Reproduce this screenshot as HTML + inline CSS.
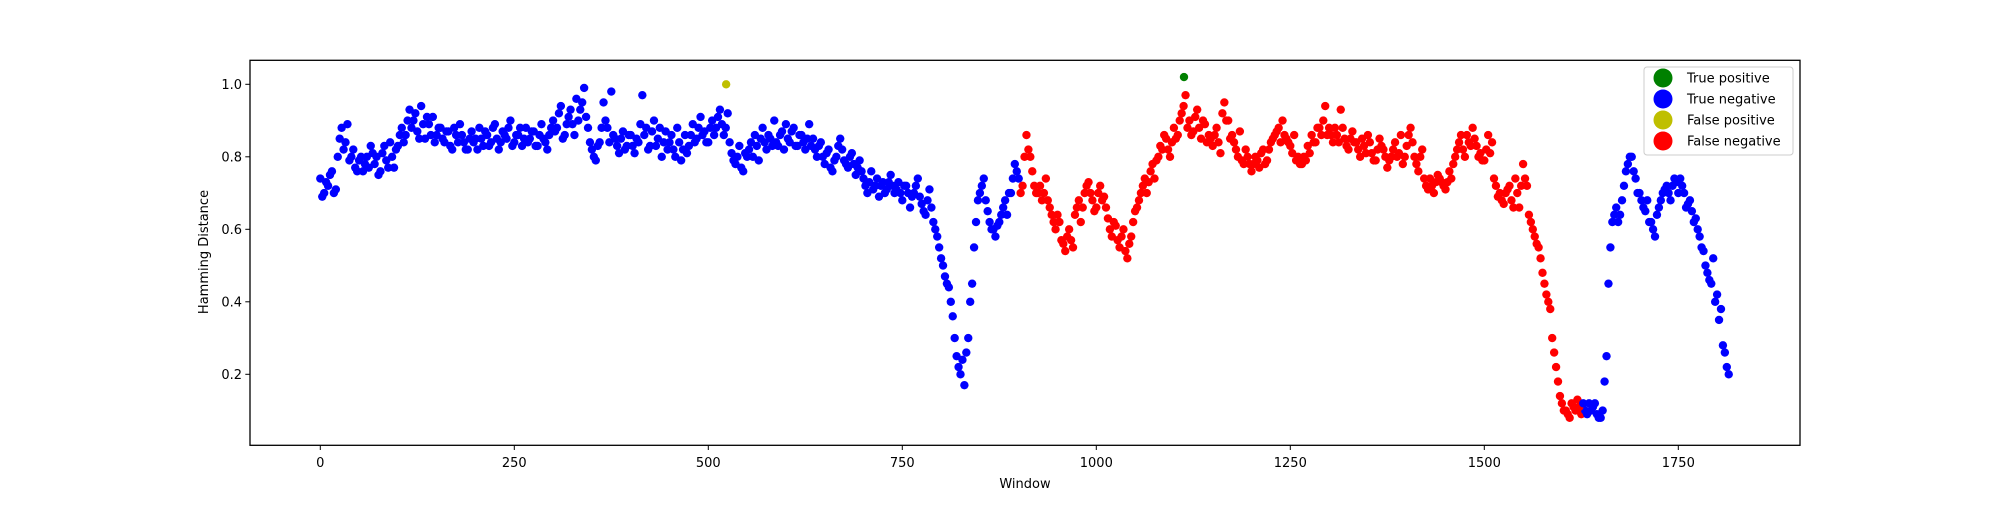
<!DOCTYPE html>
<html><head><meta charset="utf-8"><style>
html,body{margin:0;padding:0;background:#fff;}
svg text{font-family:"DejaVu Sans","Liberation Sans",sans-serif;fill:#000;}
</style></head><body>
<svg id="chart" width="2000" height="500" viewBox="0 0 2000 500" xmlns="http://www.w3.org/2000/svg">
<rect x="0" y="0" width="2000" height="500" fill="#fff"/>
<g id="points"></g>
<rect x="250" y="60.3" width="1550" height="385" fill="none" stroke="#000" stroke-width="1.3"/>
<g id="xticks"></g>
<g id="yticks"></g>
<text x="1025" y="488" font-size="13" text-anchor="middle">Window</text>
<text transform="translate(208,252) rotate(-90)" font-size="13" text-anchor="middle">Hamming Distance</text>
<g>
<rect x="1644" y="67" width="149" height="88" rx="3" fill="#fff" fill-opacity="0.8" stroke="#ccc"/>
<g id="legend-entries"></g>
</g>
</svg>
<script>
const values = [
.74,.70,.72,.76,.71,.85,.82,.89,.80,.77,.79,.76,.80,.83,.78,.75,.81,.79,.84,.77,
.83,.88,.86,.93,.90,.87,.94,.85,.89,.91,.86,.88,.84,.87,.82,.86,.89,.84,.82,.87,
.85,.88,.83,.86,.84,.89,.82,.87,.85,.90,.84,.86,.83,.88,.85,.87,.83,.89,.84,.86,
.90,.88,.94,.86,.91,.89,.96,.93,.99,.88,.82,.79,.84,.95,.88,.98,.85,.81,.87,.83,
.86,.81,.84,.97,.88,.83,.90,.85,.80,.87,.84,.82,.88,.79,.86,.83,.89,.85,.91,.87,
.84,.90,.88,.93,.86,.92,.81,.78,.83,.76,.80,.84,.86,.79,.88,.82,.85,.90,.83,.87,
.89,.84,.88,.83,.86,.82,.89,.85,.80,.84,.78,.82,.76,.80,.85,.79,.77,.81,.75,.79,
.74,.70,.76,.72,.69,.73,.71,.75,.70,.73,.68,.72,.66,.70,.74,.67,.64,.71,.62,.58,
.52,.47,.44,.36,.25,.20,.17,.30,.45,.62,.70,.74,.65,.60,.58,.62,.66,.64,.70,.78,
.74,.72,.86,.80,.72,.70,.68,.74,.66,.62,.64,.57,.54,.60,.55,.66,.62,.70,.73,.68,
.66,.72,.69,.63,.58,.61,.55,.60,.52,.58,.65,.68,.72,.70,.76,.74,.80,.82,.85,.80,
.88,.86,.92,.97,.90,.87,.93,.85,.89,.86,.83,.88,.81,.95,.90,.86,.82,.87,.78,.80,
.76,.80,.77,.82,.79,.84,.86,.88,.90,.85,.83,.86,.80,.78,.79,.81,.84,.88,.86,.94,
.88,.84,.86,.93,.85,.82,.87,.84,.80,.83,.86,.81,.79,.85,.82,.77,.80,.84,.81,.78,
.83,.88,.80,.76,.82,.72,.74,.70,.75,.73,.71,.76,.78,.82,.86,.80,.84,.88,.83,.81,
.79,.86,.84,.72,.70,.67,.71,.68,.74,.66,.78,.72,.62,.58,.55,.48,.42,.38,.26,.18,
.12,.10,.08,.11,.13,.09,.10,.12,.11,.09,.08,.18,.45,.62,.66,.64,.72,.78,.80,.74,
.70,.66,.68,.62,.58,.66,.70,.72,.68,.74,.70,.72,.66,.68,.62,.60,.55,.50,.46,.52,
.42,.38,.26,.20
];
const valuesOffset = [
.69,.73,.75,.70,.80,.88,.84,.79,.82,.76,.80,.78,.77,.81,.80,.76,.83,.77,.80,.82,
.86,.84,.90,.88,.92,.85,.89,.91,.86,.84,.88,.85,.87,.83,.88,.84,.86,.82,.85,.84,
.82,.85,.87,.83,.88,.85,.84,.86,.88,.83,.86,.88,.85,.84,.87,.83,.86,.85,.82,.88,
.87,.92,.85,.89,.93,.86,.90,.95,.91,.84,.80,.83,.88,.90,.84,.86,.83,.85,.82,.86,
.83,.85,.89,.86,.82,.87,.83,.88,.84,.82,.86,.80,.84,.82,.81,.86,.84,.88,.86,.84,
.88,.86,.91,.89,.88,.84,.79,.80,.77,.81,.82,.80,.83,.85,.84,.86,.83,.84,.86,.82,
.85,.87,.83,.86,.84,.85,.83,.82,.83,.80,.81,.77,.79,.83,.82,.78,.80,.78,.77,.76,
.72,.73,.71,.74,.72,.70,.73,.72,.71,.70,.72,.70,.69,.72,.69,.65,.68,.66,.60,.55,
.50,.45,.40,.30,.22,.24,.26,.40,.55,.68,.72,.68,.62,.60,.61,.64,.68,.70,.74,.76,
.70,.80,.82,.76,.70,.72,.70,.68,.64,.60,.62,.56,.58,.57,.64,.68,.66,.72,.70,.65,
.70,.68,.66,.60,.62,.57,.58,.54,.56,.62,.66,.70,.74,.73,.78,.79,.83,.86,.82,.84,
.85,.90,.94,.88,.86,.91,.88,.90,.84,.85,.86,.84,.92,.90,.85,.84,.80,.79,.82,.78,
.78,.79,.81,.78,.82,.85,.87,.84,.86,.84,.81,.79,.78,.80,.83,.86,.84,.88,.90,.86,
.86,.88,.84,.88,.83,.85,.84,.82,.85,.81,.84,.79,.82,.83,.80,.79,.82,.80,.86,.80,
.86,.84,.78,.80,.74,.71,.72,.73,.74,.72,.73,.74,.80,.84,.82,.86,.83,.85,.80,.79,
.82,.81,.74,.69,.68,.70,.72,.66,.70,.72,.74,.64,.60,.56,.52,.45,.40,.30,.22,.14,
.10,.09,.12,.10,.11,.12,.09,.10,.12,.08,.10,.25,.55,.64,.62,.68,.76,.80,.76,.70,
.68,.65,.62,.60,.64,.68,.71,.70,.72,.73,.74,.70,.67,.65,.63,.58,.54,.48,.45,.40,
.35,.28,.22
];
const windowStep = 5;
const segmentClasses = ["TN","FN","TN"];
const segmentEnds = [900,1627,1815];
const fpWindows = [523];
const fpValues = [1.0];
const tpWindows = [1113];
const tpValues = [1.02];
const xTicks = [0,250,500,750,1000,1250,1500,1750];
const yTicks = [0.2,0.4,0.6,0.8,1.0];
const legendLabels = ["True positive","True negative","False positive","False negative"];
const legendColors = ["#008000","#0000ff","#bfbf00","#ff0000"];

const colorFor = {TP:"#008000",TN:"#0000ff",FP:"#bfbf00",FN:"#ff0000"};
const xs = w => 320.3 + w*0.776;
const ys = v => 84.3 + (1-v)*362.5;
const NS = "http://www.w3.org/2000/svg";
function classOf(w){for(let i=0;i<segmentEnds.length;i++){if(w<=segmentEnds[i])return segmentClasses[i];}return segmentClasses[segmentClasses.length-1];}
const pg = document.getElementById('points');
function addPoint(w,v){
  const c=document.createElementNS(NS,'circle');
  c.setAttribute('cx',xs(w));c.setAttribute('cy',ys(v));c.setAttribute('r',4.2);
  c.setAttribute('fill',colorFor[classOf(w)]);
  
  
  pg.appendChild(c);
}
values.forEach((v,i)=>addPoint(i*windowStep,v));
valuesOffset.forEach((v,i)=>addPoint(i*windowStep+windowStep/2,v));
fpWindows.forEach((w,i)=>{
  const c=document.createElementNS(NS,'circle');
  c.setAttribute('cx',xs(w));c.setAttribute('cy',ys(fpValues[i]));c.setAttribute('r',4.2);c.setAttribute('fill',colorFor.FP);
  
  
  pg.appendChild(c);
});
tpWindows.forEach((w,i)=>{
  const c=document.createElementNS(NS,'circle');
  c.setAttribute('cx',xs(w));c.setAttribute('cy',ys(tpValues[i]));c.setAttribute('r',4.2);c.setAttribute('fill',colorFor.TP);
  
  
  pg.appendChild(c);
});
const xg=document.getElementById('xticks');
xTicks.forEach(t=>{
  const l=document.createElementNS(NS,'line');
  l.setAttribute('x1',xs(t));l.setAttribute('x2',xs(t));l.setAttribute('y1',445.3);l.setAttribute('y2',450);l.setAttribute('stroke','#000');
  
  
  xg.appendChild(l);
  const tx=document.createElementNS(NS,'text');
  tx.setAttribute('x',xs(t));tx.setAttribute('y',467);tx.setAttribute('font-size','13');tx.setAttribute('text-anchor','middle');
  tx.textContent=t;
  
  
  xg.appendChild(tx);
});
const yg=document.getElementById('yticks');
yTicks.forEach(t=>{
  const l=document.createElementNS(NS,'line');
  l.setAttribute('x1',245.3);l.setAttribute('x2',250);l.setAttribute('y1',ys(t));l.setAttribute('y2',ys(t));l.setAttribute('stroke','#000');
  
  
  yg.appendChild(l);
  const tx=document.createElementNS(NS,'text');
  tx.setAttribute('x',242);tx.setAttribute('y',ys(t)+4.5);tx.setAttribute('font-size','13');tx.setAttribute('text-anchor','end');
  tx.textContent=t.toFixed(1);
  
  
  yg.appendChild(tx);
});
const lg=document.getElementById('legend-entries');
legendLabels.forEach((lab,i)=>{
  const y=78+i*21;
  const c=document.createElementNS(NS,'circle');
  c.setAttribute('cx',1663);c.setAttribute('cy',y);c.setAttribute('r',9.5);c.setAttribute('fill',legendColors[i]);
  
  
  lg.appendChild(c);
  const tx=document.createElementNS(NS,'text');
  tx.setAttribute('x',1687);tx.setAttribute('y',y+4.5);tx.setAttribute('font-size','13');
  tx.textContent=lab;
  
  
  lg.appendChild(tx);
});
</script>
</body></html>
